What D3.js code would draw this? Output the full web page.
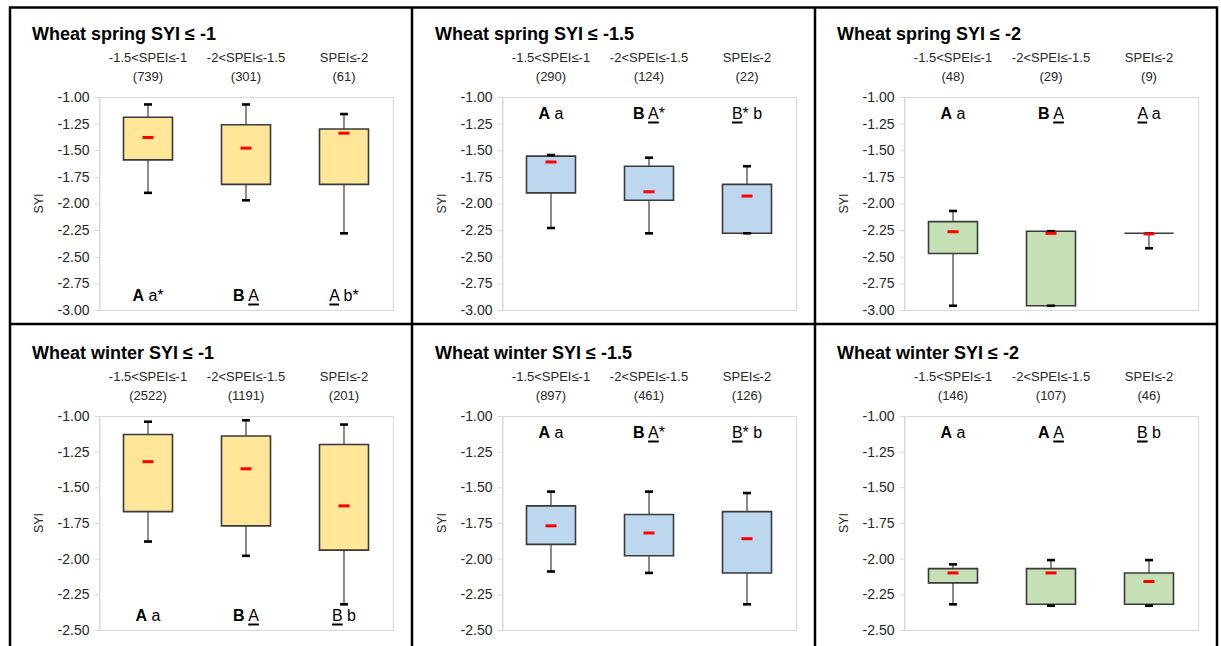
<!DOCTYPE html>
<html>
<head>
<meta charset="utf-8">
<script src="https://cdn.jsdelivr.net/npm/d3@7"></script>
<style>
  body { margin: 0; background: #fff; }
  svg { display: block; }
  text { font-family: "Liberation Sans", Arial, sans-serif; }
</style>
</head>
<body>
<svg id="fig" width="1221" height="646"></svg>
<script>
// SPEI classes shown on every panel
const categories = ["-1.5<SPEI≤-1", "-2<SPEI≤-1.5", "SPEI≤-2"];

const panelTitles = [
  "Wheat spring SYI ≤ -1", "Wheat spring SYI ≤ -1.5", "Wheat spring SYI ≤ -2",
  "Wheat winter SYI ≤ -1", "Wheat winter SYI ≤ -1.5", "Wheat winter SYI ≤ -2"
];

// number of cases per class
const counts = [
  [739, 301, 61], [290, 124, 22], [48, 29, 9],
  [2522, 1191, 201], [897, 461, 126], [146, 107, 46]
];

// box plot statistics per panel (one value per SPEI class)
const whiskerHigh = [
  [-1.07, -1.07, -1.16], [-1.545, -1.57, -1.65], [-2.07, -2.26, -2.28],
  [-1.04, -1.03, -1.06], [-1.53, -1.53, -1.54], [-2.04, -2.01, -2.01]
];
const boxHigh = [
  [-1.19, -1.26, -1.30], [-1.555, -1.65, -1.82], [-2.17, -2.26, -2.28],
  [-1.13, -1.14, -1.20], [-1.63, -1.69, -1.67], [-2.07, -2.07, -2.10]
];
const centerMark = [
  [-1.38, -1.48, -1.34], [-1.61, -1.89, -1.93], [-2.265, -2.28, -2.285],
  [-1.32, -1.37, -1.63], [-1.77, -1.82, -1.86], [-2.10, -2.10, -2.16]
];
const boxLow = [
  [-1.59, -1.82, -1.82], [-1.90, -1.97, -2.28], [-2.47, -2.96, -2.28],
  [-1.67, -1.77, -1.94], [-1.90, -1.98, -2.10], [-2.17, -2.32, -2.32]
];
const whiskerLow = [
  [-1.90, -1.97, -2.28], [-2.23, -2.28, -2.28], [-2.96, -2.96, -2.42],
  [-1.88, -1.98, -2.32], [-2.09, -2.10, -2.32], [-2.32, -2.33, -2.33]
];

// y-axis ticks for each row of panels
const ticksSpring = [-1.00, -1.25, -1.50, -1.75, -2.00, -2.25, -2.50, -2.75, -3.00];
const ticksWinter = [-1.00, -1.25, -1.50, -1.75, -2.00, -2.25, -2.50];

// significance letters: [text, style] with b = bold, u = underlined
const letterGroups = [
  [[["A","b"],[" a*",""]], [["B","b"],[" ",""],["A","u"]], [["A","u"],[" b*",""]]],
  [[["A","b"],[" a",""]], [["B","b"],[" ",""],["A","u"],["*",""]], [["B","u"],["* b",""]]],
  [[["A","b"],[" a",""]], [["B","b"],[" ",""],["A","u"]], [["A","u"],[" a",""]]],
  [[["A","b"],[" a",""]], [["B","b"],[" ",""],["A","u"]], [["B","u"],[" b",""]]],
  [[["A","b"],[" a",""]], [["B","b"],[" ",""],["A","u"],["*",""]], [["B","u"],["* b",""]]],
  [[["A","b"],[" a",""]], [["A","b"],[" ",""],["A","u"]], [["B","u"],[" b",""]]]
];
const letterPlacement = ["bottom", "top", "top", "bottom", "top", "top"];

const boxColors = ["#ffe699", "#bdd7ee", "#c5e0b4"];

// tick labels with a plain hyphen as the minus sign
const fmt2 = v => d3.format(".2f")(v).replace("\u2212", "-");

const svg = d3.select("#fig");

// frame around the figure and separators between panels
const frame = svg.append("g").attr("stroke", "#000").attr("stroke-width", 2.5).attr("fill", "none");
frame.append("path").attr("d", "M10,660 V7.5 H1217 V660");
frame.append("line").attr("x1", 412).attr("x2", 412).attr("y1", 7).attr("y2", 660);
frame.append("line").attr("x1", 815).attr("x2", 815).attr("y1", 7).attr("y2", 660);
frame.append("line").attr("x1", 10).attr("x2", 1217).attr("y1", 324).attr("y2", 324);

const colOffsets = [0, 403, 805];
const rowLayout = [
  { top: 97, bottom: 310, domain: [-3, -1], ticks: ticksSpring },
  { top: 416, bottom: 630, domain: [-2.5, -1], ticks: ticksWinter }
];

panelTitles.forEach((title, p) => {
  const row = Math.floor(p / 3), col = p % 3;
  const ox = colOffsets[col];
  const R = rowLayout[row];
  const left = ox + 99, right = ox + 393;
  const g = svg.append("g");

  const x = d3.scaleBand().domain(categories).range([left, right])
    .paddingInner(0.5).paddingOuter(0.25);
  const y = d3.scaleLinear().domain(R.domain).range([R.bottom, R.top]);

  // plot area
  g.append("rect")
    .attr("x", left + 0.5).attr("y", R.top + 0.5)
    .attr("width", right - left).attr("height", R.bottom - R.top)
    .attr("fill", "#fff").attr("stroke", "#d9d9d9").attr("stroke-width", 1);

  // y axis
  const axis = g.append("g").attr("transform", `translate(${left + 0.5},0)`)
    .call(d3.axisLeft(y).tickValues(R.ticks).tickFormat(fmt2)
      .tickSizeOuter(0).tickSizeInner(5).tickPadding(5));
  axis.select(".domain").attr("stroke", "#d9d9d9");
  axis.selectAll(".tick line").attr("stroke", "#d9d9d9");
  axis.selectAll(".tick text")
    .attr("fill", "#262626")
    .style("font-family", "'Liberation Sans', Arial, sans-serif")
    .style("font-size", "14px");

  // axis title
  g.append("text")
    .attr("transform", `translate(${ox + 43},${(R.top + R.bottom) / 2}) rotate(-90)`)
    .attr("text-anchor", "middle")
    .attr("fill", "#262626")
    .style("font-size", "12.5px")
    .text("SYI");

  // panel title
  g.append("text")
    .attr("x", ox + 32).attr("y", R.top - 57)
    .attr("fill", "#000")
    .style("font-size", "18px").style("font-weight", "bold")
    .text(title);

  // class labels with case counts
  categories.forEach((c, i) => {
    const cx = x(c) + x.bandwidth() / 2;
    g.append("text").attr("x", cx).attr("y", R.top - 35)
      .attr("text-anchor", "middle").attr("fill", "#262626")
      .style("font-size", "13px").text(c);
    g.append("text").attr("x", cx).attr("y", R.top - 16)
      .attr("text-anchor", "middle").attr("fill", "#262626")
      .style("font-size", "13px").text(`(${counts[p][i]})`);
  });

  const bw = x.bandwidth();
  const stats = categories.map((c, i) => ({
    c, hi: whiskerHigh[p][i], q3: boxHigh[p][i], m: centerMark[p][i],
    q1: boxLow[p][i], lo: whiskerLow[p][i]
  }));

  // whiskers
  stats.forEach(s => {
    const cx = x(s.c) + bw / 2;
    g.append("line").attr("x1", cx).attr("x2", cx)
      .attr("y1", y(s.hi)).attr("y2", y(s.q3))
      .attr("stroke", "#7f7f7f").attr("stroke-width", 1.8);
    g.append("line").attr("x1", cx).attr("x2", cx)
      .attr("y1", y(s.q1)).attr("y2", y(s.lo))
      .attr("stroke", "#7f7f7f").attr("stroke-width", 1.8);
  });

  // boxes
  stats.forEach(s => {
    const x0 = x(s.c), y0 = y(s.q3), y1 = y(s.q1);
    g.append("path")
      .attr("d", `M${x0},${y0} H${x0 + bw} V${y1} H${x0} Z`)
      .attr("fill", boxColors[col])
      .attr("stroke", "#3a3a3a").attr("stroke-width", 1.6);
  });

  // whisker caps
  stats.forEach(s => {
    const cx = x(s.c) + bw / 2;
    [s.hi, s.lo].forEach(v => {
      g.append("line").attr("x1", cx - 4).attr("x2", cx + 4)
        .attr("y1", y(v)).attr("y2", y(v))
        .attr("stroke", "#000").attr("stroke-width", 2.6);
    });
  });

  // central marks
  stats.forEach(s => {
    const cx = x(s.c) + bw / 2;
    g.append("line").attr("x1", cx - 5.5).attr("x2", cx + 5.5)
      .attr("y1", y(s.m)).attr("y2", y(s.m))
      .attr("stroke", "#ff0000").attr("stroke-width", 3);
  });

  // significance letters
  const ly = letterPlacement[p] === "top" ? R.top + 22 : R.bottom - 9;
  categories.forEach((c, i) => {
    const cx = x(c) + bw / 2;
    const t = g.append("text").attr("x", cx).attr("y", ly)
      .attr("text-anchor", "middle").attr("fill", "#000")
      .style("font-size", "16px");
    const segs = letterGroups[p][i];
    segs.forEach(([txt, st]) => {
      t.append("tspan")
        .style("font-weight", st === "b" ? "bold" : "normal")
        .style("white-space", "pre")
        .text(txt);
    });
    // underline marks
    const node = t.node();
    let idx = 0;
    segs.forEach(([txt, st]) => {
      if (st === "u") {
        const xs = node.getStartPositionOfChar(idx).x;
        const xe = node.getEndPositionOfChar(idx + txt.length - 1).x;
        g.append("line").attr("x1", xs).attr("x2", xe)
          .attr("y1", ly + 3.5).attr("y2", ly + 3.5)
          .attr("stroke", "#000").attr("stroke-width", 2);
      }
      idx += txt.length;
    });
  });
});
</script>
</body>
</html>
